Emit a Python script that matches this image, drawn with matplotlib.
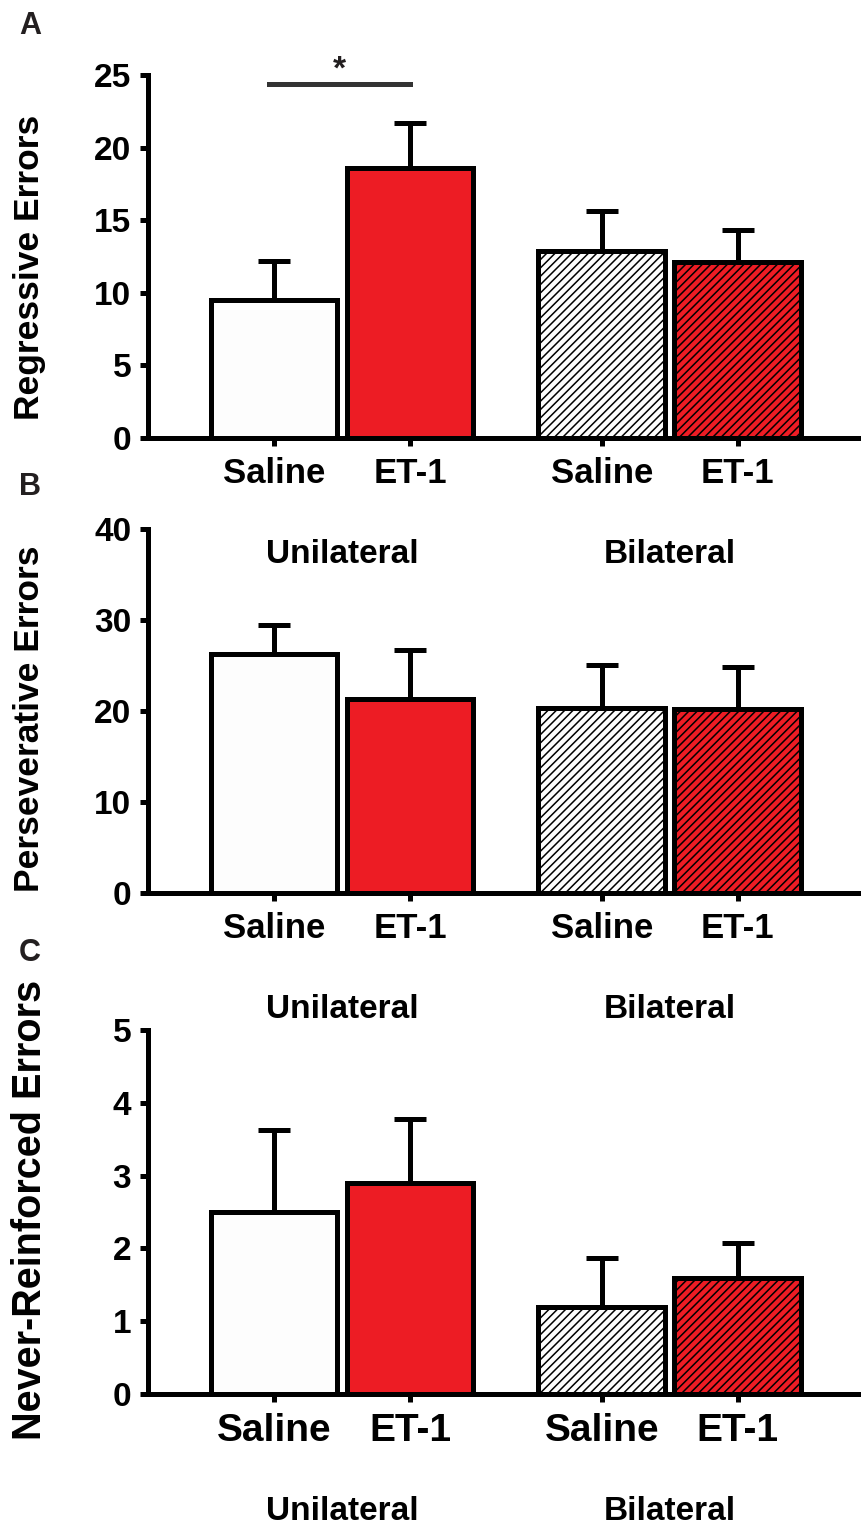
import matplotlib
matplotlib.use("Agg")
import matplotlib.pyplot as plt

plt.rcParams['font.family'] = ['Liberation Sans', 'DejaVu Sans']
plt.rcParams['font.weight'] = 'bold'
plt.rcParams['hatch.linewidth'] = 1.1

# group means and SEM for each error type
conditions = ['Saline', 'ET-1', 'Saline', 'ET-1']
groups = ['Unilateral', 'Bilateral']

regressive_mean = [9.5, 18.6, 12.9, 12.1]
regressive_sem = [2.7, 3.1, 2.7, 2.2]

persev_mean = [26.3, 21.3, 20.3, 20.2]
persev_sem = [3.2, 5.4, 4.8, 4.6]

never_mean = [2.5, 2.9, 1.2, 1.6]
never_sem = [1.13, 0.88, 0.67, 0.47]

RED = '#ed1c24'
fills = ['#fdfdfd', RED, '#fdfdfd', RED]
hatches = [None, None, '////', '////']
xpos = [0, 1, 2.41, 3.41]

fig = plt.figure(figsize=(8.61, 15.26), dpi=100)
W, H = 861, 1526


def panel(top, bottom, mean, sem, ymax, step, ylabel, ylab_y, letter, letter_y,
          tick_fs=24, xlab_fs=25, ylab_fs=25.5):
    left, right = 148, 860
    ax = fig.add_axes([left / W, 1 - bottom / H, (right - left) / W, (bottom - top) / H])
    ax.patch.set_alpha(0)
    for i in range(4):
        ax.bar(xpos[i], mean[i], width=0.93, color=fills[i], edgecolor='black',
               linewidth=3.6, hatch=hatches[i], zorder=2)
        ax.errorbar(xpos[i], mean[i], yerr=[[0], [sem[i]]], fmt='none', ecolor='black',
                    elinewidth=3.6, capsize=11.5, capthick=3.6, zorder=1)
    ax.set_xlim(-0.926, 4.309)
    ax.set_ylim(0, ymax)
    ax.set_yticks(range(0, ymax + 1, step))
    ax.set_xticks(xpos)
    ax.set_xticklabels(conditions, fontsize=xlab_fs, fontweight='bold')
    for lab in ax.get_yticklabels():
        lab.set_fontsize(tick_fs)
        lab.set_fontweight('bold')
    for s in ['top', 'right']:
        ax.spines[s].set_visible(False)
    for s in ['left', 'bottom']:
        ax.spines[s].set_linewidth(3.6)
    ax.tick_params(axis='both', width=3.6, length=6, direction='out')
    ax.tick_params(axis='y', pad=6)
    ax.tick_params(axis='x', pad=8)
    fig.text(30 / W, 1 - ylab_y / H, ylabel, rotation=90, ha='center',
             va='center', fontsize=ylab_fs, fontweight='bold')
    fig.text(30 / W, 1 - letter_y / H, letter, ha='center', va='center',
             fontsize=22, fontweight='bold', color='#231f20')
    # treatment group names under each pair of bars
    gy = 1 - (bottom + 117) / H
    for k in range(2):
        xc = (xpos[2 * k] + xpos[2 * k + 1]) / 2
        xf = fig.transFigure.inverted().transform(ax.transData.transform((xc, 0)))[0]
        fig.text(xf, gy, groups[k], ha='center', va='center', fontsize=24,
                 fontweight='bold')
    return ax


axA = panel(75, 438, regressive_mean, regressive_sem, 25, 5, 'Regressive Errors', 267,
            'A', 26)
axB = panel(529, 893, persev_mean, persev_sem, 40, 10, 'Perseverative Errors', 719,
            'B', 487)
axC = panel(1030, 1394, never_mean, never_sem, 5, 1, 'Never-Reinforced Errors', 1210,
            'C', 953, tick_fs=24, xlab_fs=28, ylab_fs=28.5)

# significance bracket between unilateral saline and ET-1
axA.plot([-0.04, 1.0], [24.4, 24.4], color='#333333', linewidth=3.6, clip_on=False)
axA.text(0.48, 24.3, '*', ha='center', va='bottom', fontsize=24, fontweight='bold',
         color='#231f20')

fig.savefig('out.png', dpi=100)
